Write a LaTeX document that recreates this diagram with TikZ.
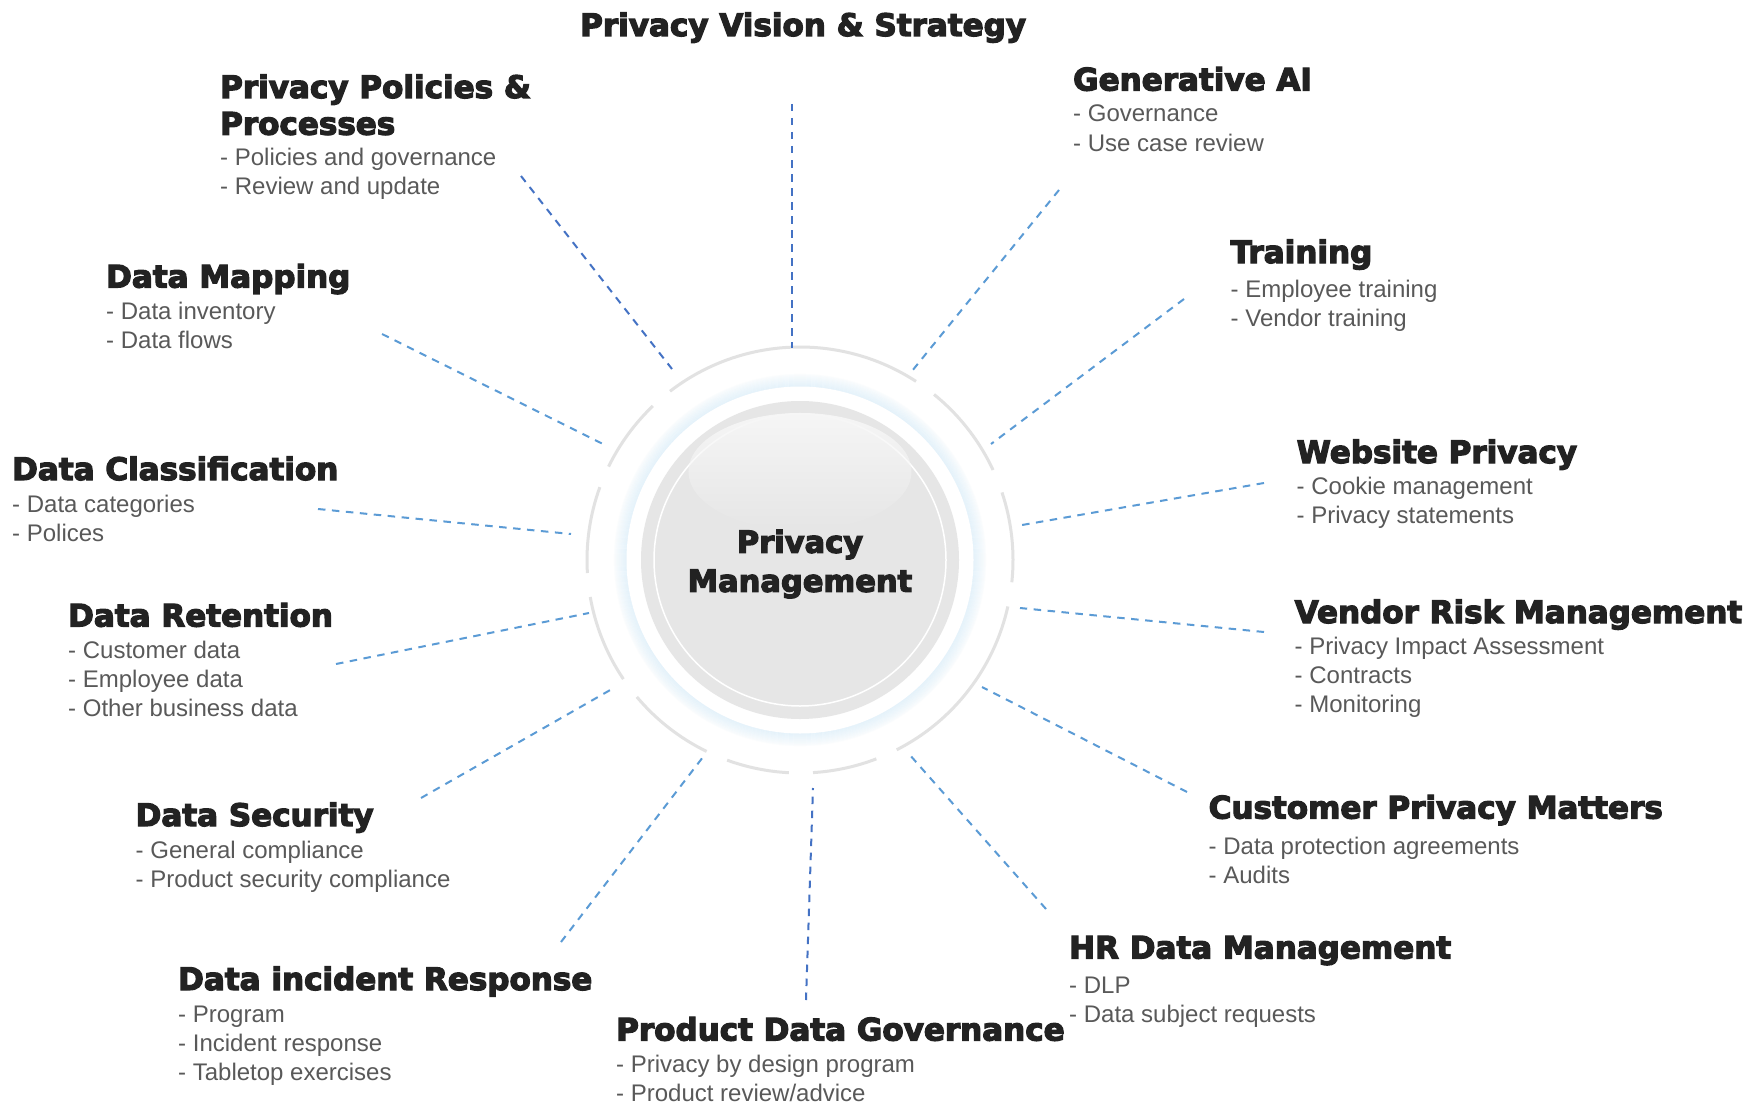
\documentclass[tikz,border=0pt]{standalone}
\usepackage{fontspec}
\setmainfont{Liberation Sans}
\newfontfamily\headfont{DejaVu Sans Bold}[FakeBold=4]
\usetikzlibrary{positioning, fadings}

\definecolor{headgray}{HTML}{222222}
\definecolor{itemgray}{HTML}{595959}
\definecolor{blueLight}{HTML}{5B9BD5}
\definecolor{blueDark}{HTML}{4472C4}
\definecolor{ringgray}{HTML}{E2E2E2}
\definecolor{diskgray}{HTML}{E6E6E6}
\definecolor{haloblue}{HTML}{DDEFFA}
\definecolor{shine}{HTML}{F6F6F6}

% lines stacked with their first baseline as the node's baseline
\newcommand{\itemlist}[1]{\begin{tabular}[t]{@{}l@{}}#1\end{tabular}}

\begin{document}
\begin{tikzpicture}[
    x=1pt, y=-1pt,
    % --- styles ---
    % topic heading
    head/.style={anchor=base west, inner sep=0pt, text=headgray,
        font=\headfont\fontsize{31}{36.7}\selectfont},
    % bullet list under a heading
    items/.style={anchor=base west, inner sep=0pt, text=itemgray,
        font=\fontsize{24}{29}\selectfont},
    % dashed spokes
    spoke/.style={draw=blueLight, line width=2pt, dash pattern=on 7.5pt off 6.5pt},
    spokeDark/.style={spoke, draw=blueDark},
    % hub parts
    ringarc/.style={draw=ringgray, line width=3pt},
    disk/.style={circle, fill=diskgray, minimum size=318pt, inner sep=0pt},
    hubtext/.style={align=center, text=headgray, inner sep=0pt,
        font=\headfont\fontsize{30.5}{39}\selectfont}
]

% --- 0. Canvas ---
\useasboundingbox (0,0) rectangle (1748,1105);
\fill[white] (0,0) rectangle (1748,1105);

% --- 1. Hub ---
\coordinate (hub) at (800,560);

% soft blue halo
\foreach \i [evaluate=\i as \op using 0.7-0.05*\i,
             evaluate=\i as \rr using 173.5+\i] in {0,...,12}
    \draw[haloblue, line width=1.2pt, opacity=\op] (hub) circle[radius=\rr];
\fill[white] (hub) circle[radius=173.5];

\node[disk] (core) at (hub) {};
\draw[white, line width=1.5pt] (core.center) circle[radius=146];
\fill[shine, path fading=south] (800,471.5) ellipse[x radius=111.5, y radius=58.5];
\node[hubtext] (title) at ([yshift=-4pt]core.center) {Privacy\\Management};

% broken outer ring
\begin{scope}[shift={(hub)}, yscale=-1]
\foreach \a/\b in {57/127.6, 133.7/154, 160/183.5, 190/214, 220/244,
                   250/267, 273.5/291, 297/347.4, 354/378.5, 25/51}
    \draw[ringarc] (\a:213) arc[start angle=\a, end angle=\b, radius=213];
\end{scope}

% --- 2. Topics ---
\node[head] (vision) at (580,36) {Privacy Vision \& Strategy};

\node[head] (policies) at (220,98) {\itemlist{Privacy Policies \&\\Processes}};
\node[below=67.7pt of policies.base west, items] (policiesList)
    {\itemlist{- Policies and governance\\- Review and update}};

\node[head] (genai) at (1073,90.5) {Generative AI};
\node[below=31.5pt of genai.base west, items] (genaiList)
    {\itemlist{- Governance\\- Use case review}};

\node[head] (mapping) at (106,287.5) {Data Mapping};
\node[below=31.5pt of mapping.base west, items] (mappingList)
    {\itemlist{- Data inventory\\- Data flows}};

\node[head] (training) at (1230.5,263) {Training};
\node[below=34.5pt of training.base west, items] (trainingList)
    {\itemlist{- Employee training\\- Vendor training}};

\node[head] (website) at (1296.5,463) {Website Privacy};
\node[below=31pt of website.base west, items] (websiteList)
    {\itemlist{- Cookie management\\- Privacy statements}};

\node[head] (classif) at (12,480) {Data Classification};
\node[below=32pt of classif.base west, items] (classifList)
    {\itemlist{- Data categories\\- Polices}};

\node[head] (vendor) at (1294.5,623) {Vendor Risk Management};
\node[below=31.5pt of vendor.base west, items] (vendorList)
    {\itemlist{- Privacy Impact Assessment\\- Contracts\\- Monitoring}};

\node[head] (retention) at (68,626.5) {Data Retention};
\node[below=32pt of retention.base west, items] (retentionList)
    {\itemlist{- Customer data\\- Employee data\\- Other business data}};

\node[head] (customer) at (1208.5,818.5) {Customer Privacy Matters};
\node[below=35.5pt of customer.base west, items] (customerList)
    {\itemlist{- Data protection agreements\\- Audits}};

\node[head] (security) at (135.5,826) {Data Security};
\node[below=32.5pt of security.base west, items] (securityList)
    {\itemlist{- General compliance\\- Product security compliance}};

\node[head] (hr) at (1069,958.5) {HR Data Management};
\node[below=34.5pt of hr.base west, items] (hrList)
    {\itemlist{- DLP\\- Data subject requests}};

\node[head] (incident) at (178,990) {Data incident Response};
\node[below=32.5pt of incident.base west, items] (incidentList)
    {\itemlist{- Program\\- Incident response\\- Tabletop exercises}};

\node[head] (product) at (616,1040.5) {Product Data Governance};
\node[below=32pt of product.base west, items] (productList)
    {\itemlist{- Privacy by design program\\- Product review/advice}};

% --- 3. Spokes (outer end -> hub end) ---
\coordinate (visionOut)    at (792,104);  \coordinate (visionIn)    at (792,348);
\coordinate (policiesOut)  at (521,176);  \coordinate (policiesIn)  at (672,369);
\coordinate (genaiOut)     at (1059,190); \coordinate (genaiIn)     at (912,371);
\coordinate (trainingOut)  at (1184,299); \coordinate (trainingIn)  at (991,444);
\coordinate (mappingOut)   at (382,334);  \coordinate (mappingIn)   at (603,444);
\coordinate (websiteOut)   at (1264,483); \coordinate (websiteIn)   at (1022,525);
\coordinate (classifOut)   at (318,509);  \coordinate (classifIn)   at (571,534);
\coordinate (vendorOut)    at (1264,632); \coordinate (vendorIn)    at (1020,608);
\coordinate (retentionOut) at (336,664);  \coordinate (retentionIn) at (589,613);
\coordinate (customerOut)  at (1187,792); \coordinate (customerIn)  at (982,687);
\coordinate (securityOut)  at (421,798);  \coordinate (securityIn)  at (612,689);
\coordinate (hrOut)        at (1046,909); \coordinate (hrIn)        at (909,754);
\coordinate (incidentOut)  at (561,942);  \coordinate (incidentIn)  at (703,757);
\coordinate (productOut)   at (806,1000); \coordinate (productIn)   at (813,788);

\draw[spokeDark] (visionOut) -- (visionIn);
\draw[spokeDark] (policiesOut) -- (policiesIn);
\draw[spoke] (genaiOut) -- (genaiIn);
\draw[spoke] (trainingOut) -- (trainingIn);
\draw[spoke] (mappingOut) -- (mappingIn);
\draw[spoke] (websiteOut) -- (websiteIn);
\draw[spoke] (classifOut) -- (classifIn);
\draw[spoke] (vendorOut) -- (vendorIn);
\draw[spoke] (retentionOut) -- (retentionIn);
\draw[spoke] (customerOut) -- (customerIn);
\draw[spoke] (securityOut) -- (securityIn);
\draw[spoke] (hrOut) -- (hrIn);
\draw[spoke] (incidentOut) -- (incidentIn);
\draw[spokeDark] (productOut) -- (productIn);

\end{tikzpicture}
\end{document}
